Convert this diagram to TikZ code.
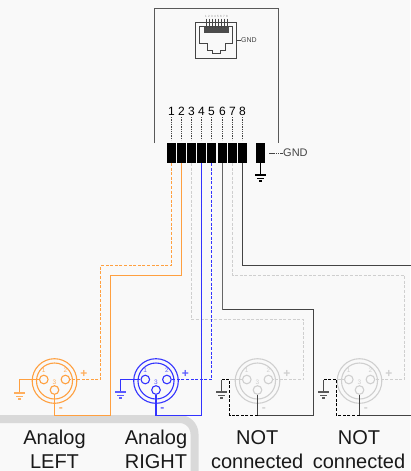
\documentclass[tikz,border=0pt]{standalone}
\usepackage{fontspec}
\setmainfont{Liberation Sans}
\definecolor{bg}{HTML}{F9F9F9}
\definecolor{frameg}{HTML}{D9D9D9}
\definecolor{org}{HTML}{FFA040}
\definecolor{blu}{HTML}{3333FF}
\definecolor{lgr}{HTML}{CFCFCF}
\definecolor{dgr}{HTML}{444444}
\newcommand{\fs}[1]{\fontsize{#1}{#1}\selectfont}
\tikzset{
  x=1pt,y=-1pt,
  block/.style={draw=none,fill=black,minimum width=8.5pt,minimum height=19.4pt,inner sep=0pt},
  pin/.style={circle,draw=#1,line width=1.1pt,minimum size=8.6pt,inner sep=0pt},
  wire/.style={line width=1.6pt,draw=#1},
  dwire/.style={line width=1.6pt,draw=#1,dash pattern=on 3pt off 1.6pt},
  txt/.style={inner sep=0pt,text=#1},
  bign/.style={inner sep=0pt,font=\fs{12}},
  lab/.style={inner sep=0pt,align=center,font=\fontsize{20}{24}\selectfont,text=black!90},
}
\newcommand{\xlr}[5]{% name, x, colour, text colour, -
  \node[pin=#3] (#1a) at (#2-10.7,379.5) {};
  \node[pin=#3] (#1b) at (#2+10.9,379.5) {};
  \node[pin=#3] (#1c) at (#2,390) {};
  \draw[#3,line width=1.1pt] (#2,381) circle[radius=22.3];
  \draw[#3,line width=1.1pt] (#2,381) circle[radius=18];
  \node[txt=#4,font=\fs{6.5}] (#1t1) at (#2-10.9,370.5) {1};
  \node[txt=#4,font=\fs{6.5}] (#1t2) at (#2+11,370.5) {2};
  \node[txt=#4,font=\fs{6.5}] (#1t3) at (#2,382.3) {3};
  \node[txt=#4,font=\bfseries\fs{12}] (#1p) at (#2+29.3,373.5) {+};
  \node[txt=#4,font=\bfseries\fs{12}] (#1m) at (#2+6.3,410) {-};
}
\newcommand{\gnd}[3]{% top coordinate x, y, colour
  \draw[#3,line width=1.1pt] (#1-5.5,#2) -- (#1+5.5,#2);
  \draw[#3,line width=1.1pt] (#1-3.2,#2+3.2) -- (#1+3.2,#2+3.2);
  \draw[#3,line width=1.1pt] (#1-1.5,#2+6) -- (#1+1.5,#2+6);
}
\begin{document}
\begin{tikzpicture}
\useasboundingbox (0,0) rectangle (410,471);
\fill[bg] (0,0) rectangle (410,471);
% frame
\draw[frameg,line width=8pt,rounded corners=15pt] (-10,419) -- (194.5,419) -- (194.5,480);
% enclosure
\draw[line width=1.3pt,draw=black!65] (154.5,143) -- (154.5,8.5) -- (278.5,8.5) -- (278.5,143);
% jack
\draw[line width=1pt,draw=dgr] (195.7,22.3) rectangle (236.7,58);
\draw[line width=1pt,draw=dgr] (199.7,26) -- (232.7,26) -- (232.7,43.3) -- (225,43.3) -- (225,50) -- (220,50) -- (220,53.3) -- (212.3,53.3) -- (212.3,50) -- (207.3,50) -- (207.3,43.3) -- (199.7,43.3) -- cycle;
\fill[black!70] (204,26.5) rectangle (228.7,32.7);
\foreach \i in {1,...,8}{
  \draw[line width=.7pt,draw=dgr] (205.5+\i*3-3+.5,18.5) -- (205.5+\i*3-3+.5,28);
  \node[txt=black!45,font=\fs{3}] (j\i) at (205.5+\i*3-3+.5,16.7) {\i};
}
\coordinate (jg) at (236.7,40);
\node[txt=dgr,font=\fs{7},anchor=west] (jgnd) at (241,40) {GND};
\draw[line width=.8pt,draw=dgr] (jg) -- (jgnd.west);
% blocks and pin labels
\foreach \n/\x in {1/171.5,2/181.5,3/191.5,4/201.5,5/211.5,6/222.5,7/232.5,8/242.5}{
  \node[block] (b\n) at (\x,153) {};
  \node[bign] (n\n) at (\x,111.7) {\n};
  \draw[line width=.7pt,draw=dgr,dash pattern=on 1.3pt off 1pt] (\x,117) -- (\x,140);
}
\node[block,minimum width=8.7pt] (b9) at (260.5,153) {};
\node[inner sep=0pt,font=\fs{11},anchor=west,text=dgr] (g9) at (283,153.2) {GND};
\coordinate (g9s) at (269,153.2);
\draw[line width=.8pt,draw=dgr,dash pattern=on 1.5pt off .7pt] (g9s) -- (g9.west);
\coordinate (g9t) at (260.5,175);
\draw[line width=1.1pt] (b9.south) -- (g9t);
\gnd{260.5}{175}{black}
% XLR connectors
\xlr{A}{54.5}{org}{org!85}{}
\xlr{B}{156}{blu}{blu!80}{}
\xlr{C}{257.5}{lgr}{lgr}{}
\xlr{D}{359.5}{lgr}{lgr}{}
% bend points
\coordinate (w1) at (100.5,265.5);
\coordinate (w2) at (110.5,275.5);
\coordinate (w2b) at (110.5,415.5);
\coordinate (w3) at (303.5,319.5);
\coordinate (w4b) at (201.5,415.5);
\coordinate (w5b) at (211.5,379.5);
\coordinate (w6) at (313.5,309.5);
\coordinate (w6b) at (313.5,415.5);
\coordinate (w7) at (404.5,275.5);
\coordinate (w8) at (411,265.5);
\coordinate (c3) at (229.5,415.5);
\coordinate (c3u) at (229.5,379.5);
\coordinate (c3g) at (221.5,379.5);
\coordinate (c3h) at (221.5,392);
\coordinate (d3) at (336.5,415.5);
\coordinate (d3u) at (336.5,379.5);
\coordinate (d3g) at (323.5,379.5);
\coordinate (d3h) at (323.5,392);
\coordinate (de) at (411,415.5);
\coordinate (ag) at (19.5,379.5);
\coordinate (agh) at (19.5,393);
\coordinate (blg) at (120.5,379.5);
\coordinate (blgh) at (120.5,392);
\coordinate (a4) at (54.5,415.5);
\coordinate (bb4) at (156,415.5);
\coordinate (c4) at (257.5,415.5);
\coordinate (d4) at (359.5,415.5);
% wires
\draw[dwire=org] (b1.south) -- (b1.south |- w1) -- (w1) |- (Ab.east);
\draw[wire=org] (b2.south) -- (b2.south |- w2) -- (w2) -- (w2b) -- (a4) -- (Ac.south);
\draw[wire=org] (Aa.west) -- (ag) -- (agh);
\gnd{19.5}{393}{org!85}
\draw[dwire=lgr] (b3.south) -- (b3.south |- w3) -- (w3) |- (Cb.east);
\draw[wire=blu] (b4.south) -- (w4b) -- (bb4) -- (Bc.south);
\draw[dwire=blu] (b5.south) -- (w5b) -- (Bb.east);
\draw[wire=blu] (Ba.west) -- (blg) -- (blgh);
\gnd{120.5}{392}{blu!80}
\draw[wire=black!60] (b6.south) -- (b6.south |- w6);
\draw[wire=dgr] (b6.south |- w6) -- (w6) -- (w6b) -- (c4) -- (Cc.south);
\draw[dwire=black,line width=1pt] (c4) -- (c3) -- (c3u) -- (c3g);
\draw[wire=black!70] (c3g) -- (c3h);
\gnd{221.5}{392}{black!65}
\draw[wire=lgr] (Ca.west) -- (c3u);
\draw[dwire=lgr] (b7.south) -- (b7.south |- w7) -- (w7) |- (Db.east);
\draw[wire=dgr] (b8.south) -- (b8.south |- w8) -- (w8);
\draw[wire=dgr] (de) -- (d4) -- (Dc.south);
\draw[dwire=black,line width=1pt] (d4) -- (d3) -- (d3u) -- (d3g);
\draw[wire=black!70] (d3g) -- (d3h);
\gnd{323.5}{392}{black!65}
\draw[wire=lgr] (Da.west) -- (d3u);
% labels
\node[lab] (la) at (54.5,449.5) {Analog\\LEFT};
\node[lab] (lb) at (156,449.5) {Analog\\RIGHT};
\node[lab] (lc) at (257.2,449.5) {NOT\\connected};
\node[lab] (ld) at (359,449.5) {NOT\\connected};
\end{tikzpicture}
\end{document}
